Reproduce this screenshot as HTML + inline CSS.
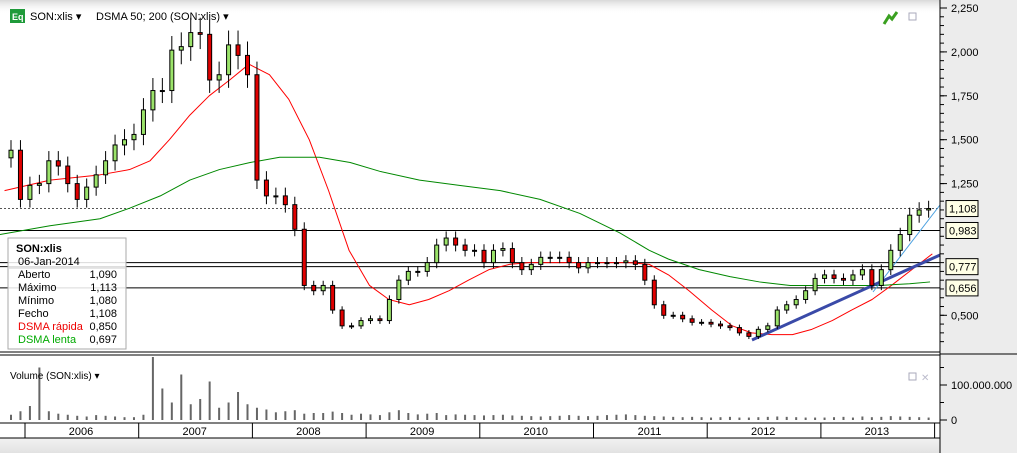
<!DOCTYPE html>
<html><head><meta charset="utf-8"><style>
body{margin:0;width:1017px;height:453px;overflow:hidden;background:#fff;font-family:"Liberation Sans",sans-serif;}
svg{display:block}
</style></head><body>
<svg id="c" width="1017" height="453" xmlns="http://www.w3.org/2000/svg" font-family="Liberation Sans, sans-serif">
<defs>
<linearGradient id="gt" x1="0" y1="0" x2="0" y2="1"><stop offset="0" stop-color="#d8d8d8"/><stop offset="1" stop-color="#fff" stop-opacity="0"/></linearGradient>
<linearGradient id="gb" x1="0" y1="0" x2="0" y2="1"><stop offset="0" stop-color="#f2f2f2"/><stop offset="1" stop-color="#e2e2e2"/></linearGradient>
</defs>
<rect x="940" y="0" width="77" height="453" fill="#ececec"/>
<rect x="0" y="0" width="940" height="14" fill="url(#gt)"/>
<rect x="0" y="438" width="940" height="15" fill="url(#gb)"/>
<g id="grid"></g>
<g id="ma"></g>
<g id="candles"></g>
<g id="vol"></g>
<g id="axis"></g>
<g>
<rect x="10" y="9" width="15" height="14" fill="#1f9a3a"/>
<text x="12" y="20" font-size="9" fill="#fff" font-weight="bold">Eq</text>
<text x="30" y="20" font-size="11" fill="#000">SON:xlis ▾</text>
<text x="96" y="20" font-size="11" fill="#000">DSMA 50; 200 (SON:xlis) ▾</text>
<path d="M884 24 L889 16 L892 19 L897 12" stroke="#3aa020" stroke-width="3" fill="none"/>
<rect x="909" y="13" width="7" height="7" fill="none" stroke="#aab"/>
</g>
<g>
<rect x="8" y="238" width="118" height="111" fill="#fff" fill-opacity="0.85" stroke="#aaa"/>
<text x="16" y="252" font-size="11" font-weight="bold">SON:xlis</text>
<text x="18" y="265" font-size="11">06-Jan-2014</text>
<line x1="9" y1="268" x2="125" y2="268" stroke="#ccc"/>
<text x="18" y="278" font-size="11">Aberto</text><text x="117" y="278" font-size="11" text-anchor="end">1,090</text>
<text x="18" y="291" font-size="11">Máximo</text><text x="117" y="291" font-size="11" text-anchor="end">1,113</text>
<text x="18" y="304" font-size="11">Mínimo</text><text x="117" y="304" font-size="11" text-anchor="end">1,080</text>
<text x="18" y="317" font-size="11">Fecho</text><text x="117" y="317" font-size="11" text-anchor="end">1,108</text>
<text x="18" y="330" font-size="11" fill="#e00">DSMA rápida</text><text x="117" y="330" font-size="11" text-anchor="end">0,850</text>
<text x="18" y="343" font-size="11" fill="#0a0">DSMA lenta</text><text x="117" y="343" font-size="11" text-anchor="end">0,697</text>
</g>
<text x="10" y="379" font-size="10">Volume (SON:xlis) ▾</text>
<rect x="909" y="373" width="7" height="7" fill="none" stroke="#aab"/>
<text x="921" y="381" font-size="10" fill="#bbc">✕</text>
</svg>
<script>
const closes = [1.44,1.16,1.24,1.25,1.38,1.35,1.25,1.16,1.23,1.30,1.38,1.47,1.50,1.53,1.67,1.78,1.78,2.01,2.03,2.11,2.10,1.84,1.87,2.04,1.98,1.87,1.27,1.18,1.18,1.13,0.99,0.67,0.64,0.67,0.53,0.44,0.44,0.47,0.48,0.47,0.59,0.70,0.75,0.75,0.80,0.90,0.94,0.90,0.87,0.87,0.80,0.87,0.88,0.80,0.76,0.79,0.83,0.83,0.83,0.80,0.77,0.80,0.80,0.80,0.80,0.81,0.79,0.70,0.56,0.50,0.50,0.48,0.46,0.46,0.45,0.44,0.43,0.40,0.38,0.42,0.44,0.53,0.56,0.59,0.64,0.71,0.73,0.71,0.70,0.73,0.76,0.67,0.76,0.87,0.96,1.07,1.10,1.108];
const volumes = [15,25,40,150,25,18,15,12,10,14,12,10,8,8,15,180,90,50,130,45,60,110,35,50,80,45,35,30,22,25,28,18,20,20,24,20,15,18,16,14,22,28,20,16,18,20,14,16,15,14,13,14,15,13,12,11,10,11,12,14,12,11,12,14,15,16,14,12,11,10,9,8,9,8,7,8,9,7,7,8,9,10,9,8,7,7,7,8,9,7,10,8,9,11,10,9,8,7];
// moving averages sampled at fractional years
const maFastYears = [2005.82,2006.22,2006.66,2006.92,2007.10,2007.27,2007.45,2007.62,2007.80,2007.97,2008.15,2008.32,2008.50,2008.67,2008.85,2009.03,2009.20,2009.38,2009.55,2009.73,2009.90,2010.08,2010.26,2010.43,2010.70,2011.05,2011.31,2011.49,2011.66,2011.84,2012.04,2012.22,2012.39,2012.57,2012.75,2012.92,2013.10,2013.27,2013.45,2013.62,2013.80,2013.98];
const maFastVals  = [1.21,1.27,1.30,1.33,1.38,1.50,1.64,1.75,1.84,1.93,1.87,1.73,1.50,1.21,0.87,0.67,0.59,0.56,0.59,0.64,0.70,0.76,0.79,0.80,0.80,0.80,0.80,0.79,0.73,0.64,0.53,0.44,0.40,0.39,0.39,0.42,0.47,0.53,0.59,0.67,0.76,0.85];
const maSlowYears = [2005.78,2006.22,2006.66,2006.92,2007.19,2007.45,2007.71,2007.98,2008.24,2008.42,2008.59,2008.86,2009.12,2009.47,2009.82,2010.18,2010.53,2010.88,2011.23,2011.49,2011.66,2011.93,2012.20,2012.46,2012.73,2012.99,2013.26,2013.52,2013.78,2013.96];
const maSlowVals  = [0.96,1.01,1.05,1.11,1.18,1.27,1.33,1.37,1.40,1.40,1.40,1.37,1.32,1.27,1.24,1.21,1.16,1.08,0.97,0.87,0.82,0.76,0.72,0.69,0.67,0.67,0.67,0.67,0.68,0.69];
const yTicks = [2.25,2.0,1.75,1.5,1.25,0.5];
const yLabels = ['2,250','2,000','1,750','1,500','1,250','0,500'];
const years = ['2006','2007','2008','2009','2010','2011','2012','2013'];
const levels = [0.983,0.800,0.777,0.656];
const levelTags = [['1,108',1.108],['0,983',0.983],['0,777',0.777],['0,656',0.656]];

const NS='http://www.w3.org/2000/svg';
const X = i => 11 + i * 9.46;
const XT = yr => 25 + (yr - 2006) * 113.7;
const Y = v => 8 + (2.25 - v) * 175.6;
const VY = v => 420 - v * 0.35;
function mk(tag, attrs, parent){const e=document.createElementNS(NS,tag);for(const k in attrs)e.setAttribute(k,attrs[k]);parent.appendChild(e);return e;}
const grid=document.getElementById('grid'), ma=document.getElementById('ma'), cg=document.getElementById('candles'), vg=document.getElementById('vol'), ax=document.getElementById('axis');

levels.forEach(v=>{const l=mk('line',{x1:0,x2:940,y1:Y(v),y2:Y(v),stroke:'#000','stroke-width':1},grid);

});
const dl=mk('line',{x1:0,x2:940,y1:Y(closes[closes.length-1]),y2:Y(closes[closes.length-1]),stroke:'#555','stroke-dasharray':'2,2'},grid);



[[maFastYears,maFastVals,'#f00','ma-fast'],[maSlowYears,maSlowVals,'#080','ma-slow']].forEach(([xs,arr,col,nm])=>{
 const p=mk('polyline',{points:arr.map((v,i)=>XT(xs[i])+','+Y(v)).join(' '),fill:'none',stroke:col,'stroke-width':1,'stroke-linejoin':'round'},ma);
 
 
});

const t1=mk('line',{x1:752,y1:340,x2:940,y2:255,stroke:'#3a4aa8','stroke-width':3},ma);


const t2=mk('line',{x1:873,y1:292,x2:940,y2:205,stroke:'#4aa0e0','stroke-width':1},ma);



closes.forEach((c,i)=>{
 const o = i===0 ? c*0.97 : closes[i-1];
 const hi=Math.max(o,c)*1.04, lo=Math.min(o,c)*0.96;
 const g=mk('g',{},cg);
 
 
 mk('line',{x1:X(i),x2:X(i),y1:Y(hi),y2:Y(lo),stroke:'#000'},g);
 const top=Y(Math.max(o,c)), h=Math.max(1,Math.abs(Y(o)-Y(c)));
 mk('rect',{x:X(i)-2,y:top,width:4,height:h,fill:c>=o?'#9be36a':'#e00000',stroke:'#000','stroke-width':1},g);
});

volumes.forEach((v,i)=>{const r=mk('rect',{x:X(i)-1,y:VY(v),width:2,height:420-VY(v),fill:'#666'},vg);

});

mk('line',{x1:0,x2:940,y1:352,y2:352,stroke:'#000'},ax);
mk('line',{x1:0,x2:940,y1:355,y2:355,stroke:'#000'},ax);
mk('line',{x1:0,x2:940,y1:423,y2:423,stroke:'#000'},ax);
mk('line',{x1:0,x2:940,y1:438,y2:438,stroke:'#000'},ax);
mk('line',{x1:940,x2:940,y1:0,y2:453,stroke:'#000'},ax);
mk('line',{x1:940,x2:1017,y1:354,y2:354,stroke:'#000'},ax);
for(let v=0.3;v<=2.3;v+=0.05){if(Y(v)>2&&Y(v)<350)mk('line',{x1:940,x2:944,y1:Y(v),y2:Y(v),stroke:'#000'},ax);}
yTicks.forEach((v,i)=>{
 mk('line',{x1:940,x2:947,y1:Y(v),y2:Y(v),stroke:'#000'},ax);
 const t=mk('text',{x:951,y:Y(v)+4,'font-size':11},ax);t.textContent=yLabels[i];
 
 
});
[[100,'100.000.000'],[0,'0']].forEach(([v,l])=>{mk('line',{x1:940,x2:947,y1:VY(v),y2:VY(v),stroke:'#000'},ax);
 const t=mk('text',{x:951,y:VY(v)+4,'font-size':11},ax);t.textContent=l;
 
 });
[50,150].forEach(v=>mk('line',{x1:940,x2:944,y1:VY(v),y2:VY(v),stroke:'#000'},ax));
levelTags.forEach(([l,v])=>{
 const g=mk('g',{},ax);
 
 
 mk('rect',{x:946,y:Y(v)-8,width:32,height:16,fill:'#ffffe6',stroke:'#000'},g);
 const t=mk('text',{x:949,y:Y(v)+4,'font-size':11},g);t.textContent=l;
});
years.forEach((yr,i)=>{
 const x0=XT(2006+i);
 mk('line',{x1:x0,x2:x0,y1:423,y2:438,stroke:'#000'},ax);
 const t=mk('text',{x:x0+56,y:435,'font-size':11,'text-anchor':'middle'},ax);t.textContent=yr;
 
 
});
mk('line',{x1:XT(2014),x2:XT(2014),y1:423,y2:438,stroke:'#000'},ax);
</script>
</body></html>
